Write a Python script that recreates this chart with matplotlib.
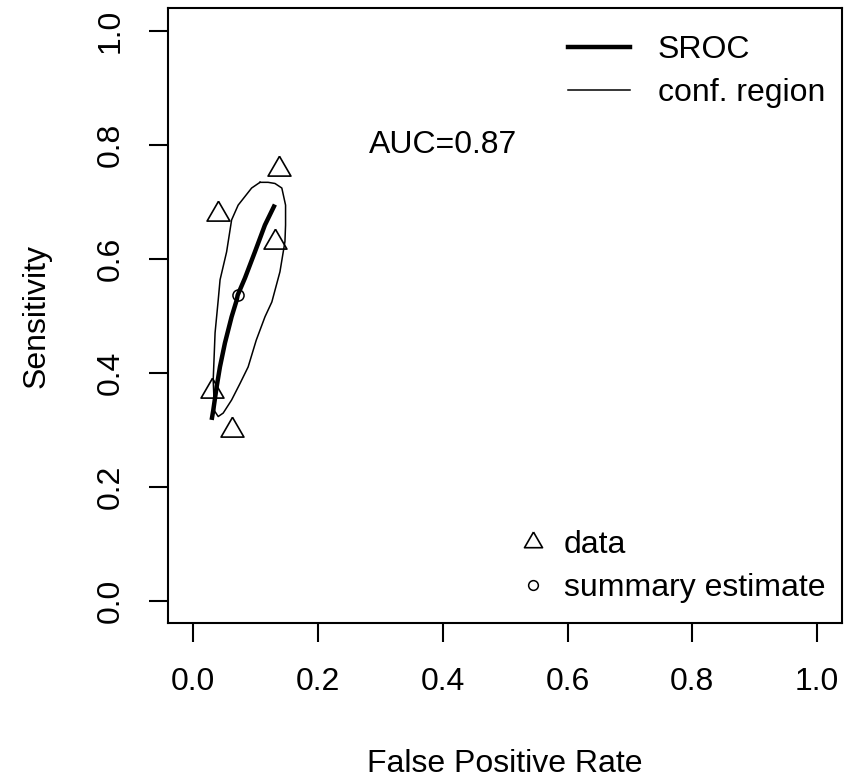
import numpy as np
import matplotlib
matplotlib.use("Agg")
import matplotlib.pyplot as plt
from matplotlib.lines import Line2D

plt.rcParams['font.family'] = ['Liberation Sans', 'DejaVu Sans']

# Study data (fpr, sensitivity)
data_fpr = [0.138, 0.040, 0.131, 0.030, 0.062]
data_sens = [0.757, 0.678, 0.629, 0.368, 0.300]

# Summary estimate
summary_fpr = [0.071]
summary_sens = [0.536]

# SROC curve
sroc_fpr = [0.0295, 0.0321, 0.0375, 0.0428, 0.0508, 0.0615, 0.0696, 0.0712,
            0.0829, 0.0989, 0.1149, 0.1309]
sroc_sens = [0.317, 0.334, 0.375, 0.410, 0.452, 0.498, 0.527, 0.536,
             0.566, 0.612, 0.659, 0.695]

# Confidence region outline
conf_fpr = [0.107, 0.120, 0.131, 0.142, 0.148, 0.148, 0.147, 0.139, 0.126,
            0.115, 0.101, 0.088, 0.075, 0.0615, 0.048, 0.040, 0.034, 0.032,
            0.035, 0.040, 0.043, 0.0535, 0.0615, 0.072, 0.0936, 0.107]
conf_sens = [0.734, 0.734, 0.732, 0.724, 0.694, 0.659, 0.630, 0.577, 0.524,
             0.498, 0.457, 0.410, 0.381, 0.352, 0.329, 0.323, 0.333, 0.387,
             0.470, 0.527, 0.563, 0.612, 0.668, 0.694, 0.724, 0.734]

auc_text = "AUC=0.87"
ticks = [0.0, 0.2, 0.4, 0.6, 0.8, 1.0]

fs = 23
# R style open triangle (pch=2), closed outline
tri = [(0, 1), (-0.866, -0.5), (0.866, -0.5), (0, 1)]

fig = plt.figure(figsize=(8.44, 7.82), dpi=100)
ax = fig.add_axes([0.1994, 0.2029, 0.7982, 0.7869])

ax.plot(sroc_fpr, sroc_sens, color='black', lw=3.2, solid_capstyle='butt')
ax.plot(conf_fpr, conf_sens, color='black', lw=1.1)
ax.plot(data_fpr, data_sens, ls='none', marker=tri, ms=19, mfc='none',
        mec='black', mew=1.2)
ax.plot(summary_fpr, summary_sens, ls='none', marker='o', ms=8, mfc='none',
        mec='black', mew=1.1)
ax.text(0.4, 0.8, auc_text, fontsize=fs, ha='center', va='center')

ax.set_xlim(-0.04, 1.04)
ax.set_ylim(-0.04, 1.04)
ax.set_xticks(ticks)
ax.set_yticks(ticks)
ax.set_xticklabels([f"{t:.1f}" for t in ticks])
ax.set_yticklabels([f"{t:.1f}" for t in ticks], rotation=90, va='center')
ax.tick_params(direction='out', length=13.7, width=1.5, labelsize=fs)
ax.tick_params(axis='x', pad=18)
ax.tick_params(axis='y', pad=17)
for s in ax.spines.values():
    s.set_linewidth(1.5)

ax.set_xlabel("False Positive Rate", fontsize=fs, labelpad=37)
ax.set_ylabel("Sensitivity", fontsize=fs, labelpad=32)

# legends
h1 = [Line2D([], [], color='black', lw=3.2), Line2D([], [], color='black', lw=1.1)]
leg1 = ax.legend(h1, ["SROC", "conf. region"], loc='upper right',
                 bbox_to_anchor=(0.975, 0.956), frameon=False, fontsize=fs,
                 borderpad=0, borderaxespad=0, handlelength=1.94,
                 handletextpad=0.875, labelspacing=0.4)
ax.add_artist(leg1)

h2 = [Line2D([], [], ls='none', marker=tri, ms=15, mfc='none', mec='black', mew=1.2),
      Line2D([], [], ls='none', marker='o', ms=7, mfc='none', mec='black', mew=1.1)]
ax.legend(h2, ["data", "summary estimate"], loc='lower right',
          bbox_to_anchor=(0.975, 0.033), frameon=False, fontsize=fs,
          borderpad=0, borderaxespad=0, handlelength=1.0,
          handletextpad=0.47, labelspacing=0.4)

fig.savefig("out.png", dpi=100)
